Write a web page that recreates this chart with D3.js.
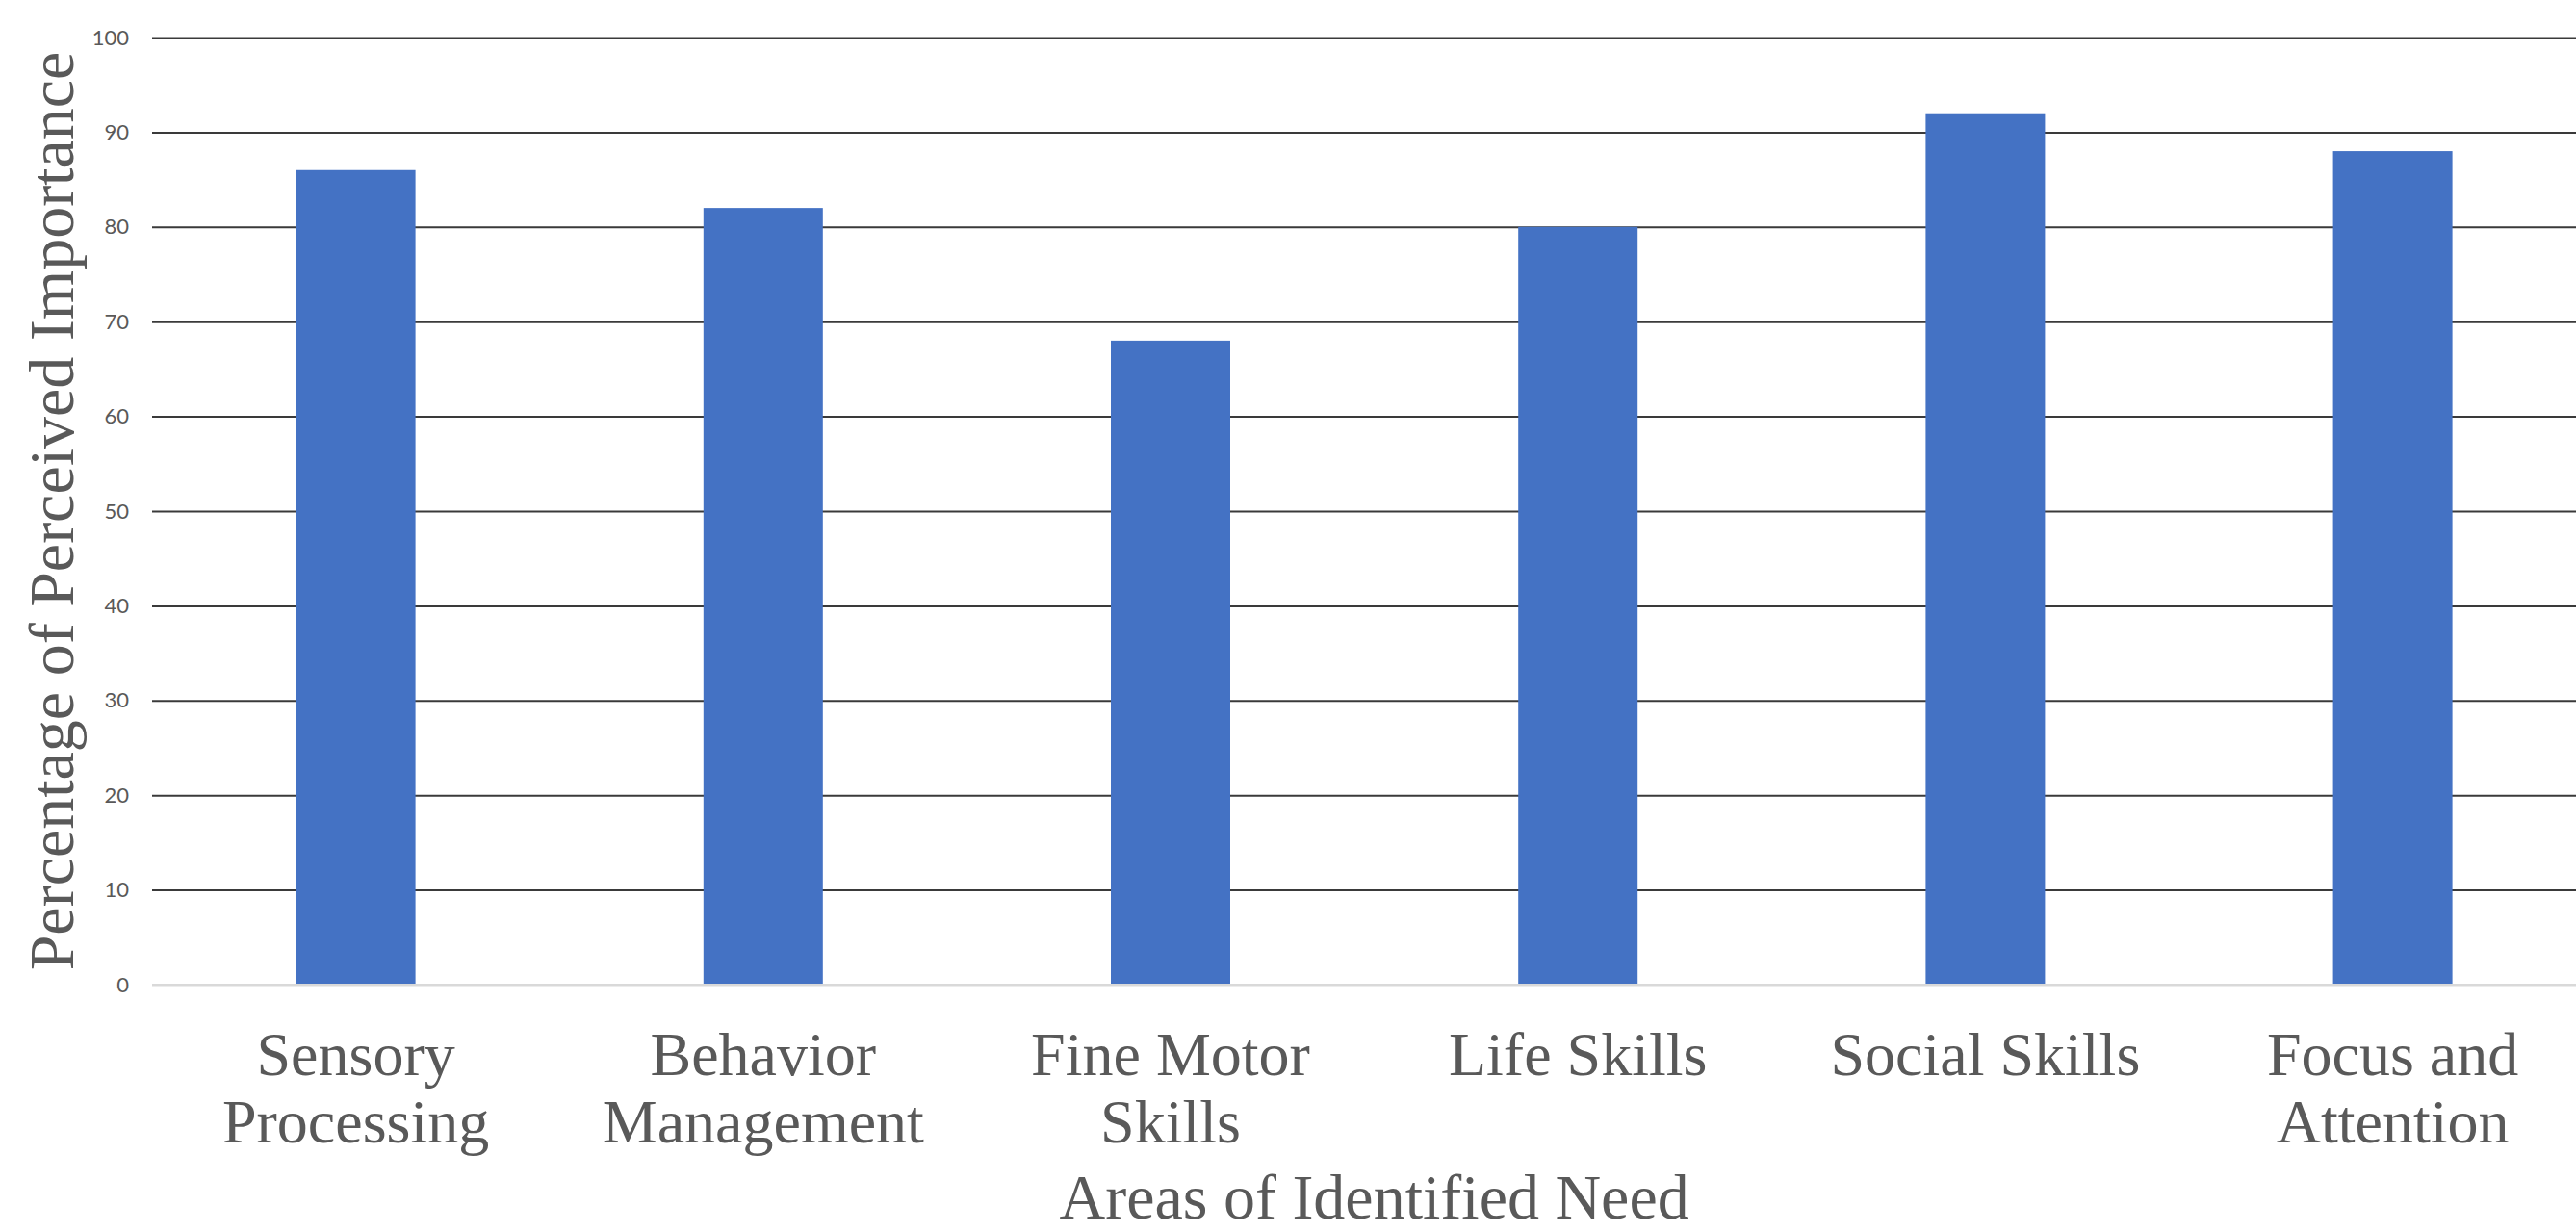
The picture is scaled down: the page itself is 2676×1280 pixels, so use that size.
<!DOCTYPE html>
<html>
<head>
<meta charset="utf-8">
<script src="https://cdn.jsdelivr.net/npm/d3@7"></script>
<style>
  body { margin: 0; background: #fff; }
  svg { display: block; }
</style>
</head>
<body>
<div id="chart"></div>
<script>
// data ---------------------------------------------------------------
var categories = ["Sensory Processing", "Behavior Management", "Fine Motor Skills",
                  "Life Skills", "Social Skills", "Focus and Attention"];
var categoryLines = [["Sensory", "Processing"], ["Behavior", "Management"], ["Fine Motor", "Skills"],
                     ["Life Skills"], ["Social Skills"], ["Focus and", "Attention"]];
var values = [86, 82, 68, 80, 92, 88];
var yTicks = [0, 10, 20, 30, 40, 50, 60, 70, 80, 90, 100];

// layout -------------------------------------------------------------
var svgWidth = 2676, svgHeight = 1280;
var margin = {top: 39, left: 158};
var step = 423.2;
var plotBottom = 1023;

var svg = d3.select("#chart").append("svg")
  .attr("width", svgWidth)
  .attr("height", svgHeight);

var x = d3.scaleBand()
  .domain(categories)
  .range([margin.left, margin.left + step * categories.length])
  .paddingInner(0.707)
  .paddingOuter(0.3535);

var y = d3.scaleLinear()
  .domain([0, 100])
  .range([plotBottom, margin.top]);

// gridlines + y labels
var yAxis = svg.append("g")
  .attr("transform", "translate(" + margin.left + ",0)")
  .call(d3.axisLeft(y)
    .tickValues(yTicks)
    .tickSize(-(svgWidth - margin.left))
    .tickPadding(24));

yAxis.select(".domain").remove();
yAxis.selectAll(".tick line")
  .attr("stroke", function(d) { return d === 0 ? "#d9d9d9" : "#3a3a3a"; })
  .attr("stroke-width", 2);
yAxis.selectAll(".tick text")
  .attr("fill", "#595959")
  .style("font-family", "Lato, 'Open Sans', sans-serif")
  .style("font-size", "22px");

// bars
svg.selectAll(".bar")
  .data(values)
  .enter()
  .append("rect")
    .attr("class", "bar")
    .attr("x", function(d, i) { return x(categories[i]); })
    .attr("y", function(d) { return y(d); })
    .attr("width", x.bandwidth())
    .attr("height", function(d) { return y(0) - y(d); })
    .attr("fill", "#4472C4");

// redraw the zero line over the bars
svg.append("line")
  .attr("x1", margin.left)
  .attr("x2", svgWidth)
  .attr("y1", y(0))
  .attr("y2", y(0))
  .attr("stroke", "#d9d9d9")
  .attr("stroke-width", 2);

// category labels
var xAxis = svg.append("g")
  .attr("transform", "translate(0," + plotBottom + ")")
  .call(d3.axisBottom(x).tickSize(0).tickPadding(0));

xAxis.select(".domain").remove();
xAxis.selectAll(".tick text").each(function(d, i) {
  var t = d3.select(this)
    .text(null)
    .attr("y", 0)
    .attr("dy", null)
    .attr("fill", "#595959")
    .style("font-family", "'Liberation Serif', 'Times New Roman', serif")
    .style("font-size", "64px");
  categoryLines[i].forEach(function(line, j) {
    t.append("tspan")
      .attr("x", 0)
      .attr("y", 94 + j * 70)
      .text(line);
  });
});

// axis titles
svg.append("text")
  .attr("x", margin.left + step * categories.length / 2)
  .attr("y", 1266)
  .attr("text-anchor", "middle")
  .attr("fill", "#595959")
  .style("font-family", "'Liberation Serif', 'Times New Roman', serif")
  .style("font-size", "66px")
  .text("Areas of Identified Need");

svg.append("text")
  .attr("transform", "translate(76," + (margin.top + plotBottom) / 2 + ") rotate(-90)")
  .attr("text-anchor", "middle")
  .attr("fill", "#595959")
  .style("font-family", "'Liberation Serif', 'Times New Roman', serif")
  .style("font-size", "66px")
  .text("Percentage of Perceived Importance");
</script>
</body>
</html>
